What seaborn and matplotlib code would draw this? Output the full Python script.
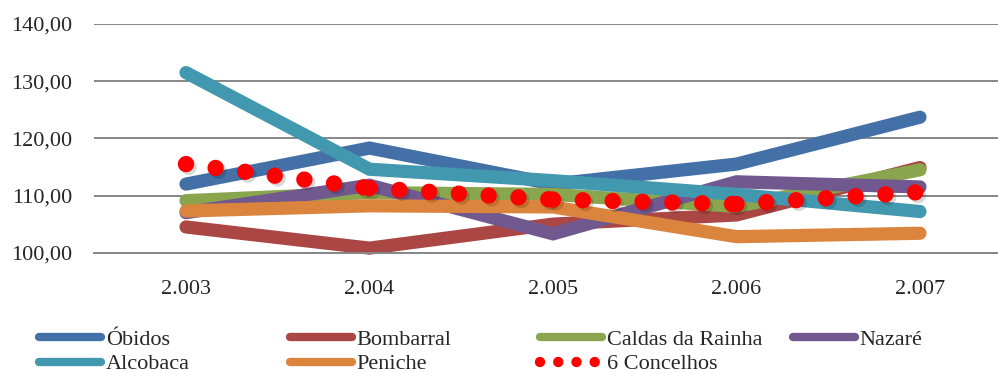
import matplotlib
matplotlib.use("Agg")
import matplotlib.pyplot as plt
import matplotlib.patheffects as pe
from matplotlib.lines import Line2D
import pandas as pd
import seaborn as sns

# Índices por concelho, 2003-2007
anos = [2003, 2004, 2005, 2006, 2007]
obidos = [112.0, 118.3, 112.0, 115.5, 123.7]
bombarral = [104.5, 100.8, 105.0, 106.6, 114.9]
caldas = [109.1, 110.5, 110.2, 108.1, 114.5]
nazare = [107.0, 111.8, 103.3, 112.4, 111.5]
alcobaca = [131.5, 114.6, 112.6, 110.2, 107.2]
peniche = [107.3, 108.2, 108.0, 102.8, 103.4]
seis_concelhos = [115.5, 111.3, 109.3, 108.5, 110.6]

nomes = ["Óbidos", "Bombarral", "Caldas da Rainha", "Nazaré", "Alcobaca", "Peniche"]
series = [obidos, bombarral, caldas, nazare, alcobaca, peniche]
cores = ["#4470A8", "#AA4643", "#89A54E", "#71588F", "#4198AF", "#DB843D"]
nome_media = "6 Concelhos"
cor_media = "#FF0000"

y_ticks = [100, 110, 120, 130, 140]

df = pd.DataFrame(
    [(a, v, n) for n, vals in zip(nomes, series) for a, v in zip(anos, vals)],
    columns=["Ano", "Valor", "Concelho"],
)

sns.set_theme(style="white")
plt.rcParams["font.family"] = ["Liberation Serif", "DejaVu Serif"]
fs = 16

W, H = 998, 373
fig = plt.figure(figsize=(W / 100, H / 100), dpi=100)
x0, x1 = 94.25, 1011.75
y_top, y_bot = 24.0, 252.7
ax = fig.add_axes([x0 / W, 1 - y_bot / H, (x1 - x0) / W, (y_bot - y_top) / H])

grid_col = "#878787"
ax.set_axisbelow(True)
ax.yaxis.grid(True, color=grid_col, lw=1.4)
ax.xaxis.grid(False)
for s in ["top", "left", "right"]:
    ax.spines[s].set_visible(False)
ax.spines["bottom"].set_color(grid_col)
ax.spines["bottom"].set_linewidth(1.4)

sns.lineplot(
    data=df, x="Ano", y="Valor", hue="Concelho", hue_order=nomes,
    palette=dict(zip(nomes, cores)), linewidth=9.5, legend=False, sort=False,
    solid_capstyle="round", solid_joinstyle="miter", clip_on=False, ax=ax,
)

# Média dos 6 concelhos: pontos redondos, padrão reiniciado em cada segmento
sombra = [pe.SimpleLineShadow(offset=(2.0, -2.0), shadow_color="black", alpha=0.15), pe.Normal()]
for i in range(len(anos) - 1):
    ax.plot(
        anos[i:i + 2], seis_concelhos[i:i + 2], color=cor_media, lw=11.8,
        linestyle=(0, (0.001, 1.82)), dash_capstyle="round", clip_on=False,
        path_effects=sombra, zorder=5,
    )

ax.set_xlim(anos[0] - 0.5, anos[-1] + 0.5)
ax.set_ylim(y_ticks[0], y_ticks[-1])
ax.set_xticks(anos)
ax.set_xticklabels([f"{a:,}".replace(",", ".") for a in anos], fontsize=fs)
ax.set_yticks(y_ticks)
ax.set_yticklabels([f"{v:.2f}".replace(".", ",") for v in y_ticks], fontsize=fs)
ax.tick_params(axis="x", length=0, pad=20)
ax.tick_params(axis="y", length=0, pad=16)
ax.set_xlabel("")
ax.set_ylabel("")


def linha(cor):
    return Line2D([], [], color=cor, lw=6, solid_capstyle="round")


ponto_leg = Line2D([], [], color=cor_media, lw=7.5, linestyle=(0, (0.001, 1.75)),
                   dash_capstyle="round")

colunas = [
    ([linha(cores[0]), linha(cores[4])], [nomes[0], nomes[4]], 39),
    ([linha(cores[1]), linha(cores[5])], [nomes[1], nomes[5]], 290),
    ([linha(cores[2]), ponto_leg], [nomes[2], nome_media], 540),
    ([linha(cores[3])], [nomes[3]], 793),
]
for hs, ls, xp in colunas:
    fig.legend(
        hs, ls, loc="upper left", bbox_to_anchor=(xp / W, 1 - 329.5 / H),
        bbox_transform=fig.transFigure, frameon=False, fontsize=fs,
        handlelength=2.78, handletextpad=0.22, labelspacing=0.17,
        borderpad=0, borderaxespad=0,
    )

fig.savefig("out.png", dpi=100)
